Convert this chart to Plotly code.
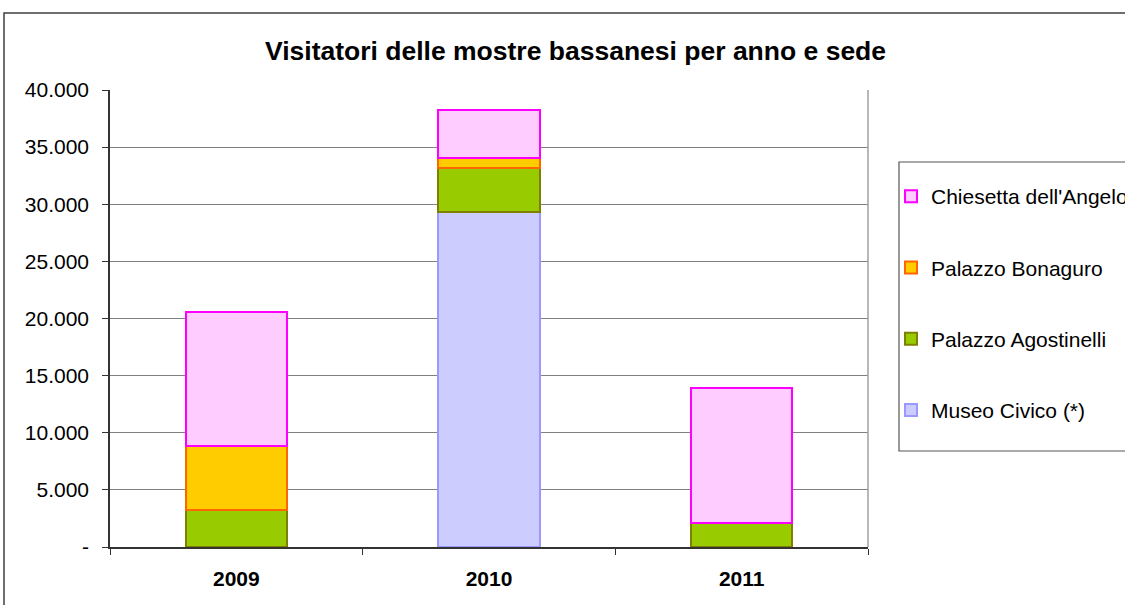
import plotly.graph_objects as go

years = ["2009", "2010", "2011"]
museo_civico = [0, 29350, 0]
palazzo_agostinelli = [3240, 3850, 2070]
palazzo_bonaguro = [5630, 820, 0]
chiesetta_angelo = [11700, 4230, 11870]

tick_values = [0, 5000, 10000, 15000, 20000, 25000, 30000, 35000, 40000]
tick_labels = ["-", "5.000", "10.000", "15.000", "20.000", "25.000", "30.000", "35.000", "40.000"]

series = [
    ("Museo Civico (*)", museo_civico, "#CCCCFF", "#9999FF", 4),
    ("Palazzo Agostinelli", palazzo_agostinelli, "#99CC00", "#808000", 3),
    ("Palazzo Bonaguro", palazzo_bonaguro, "#FFCC00", "#FF6600", 2),
    ("Chiesetta dell'Angelo", chiesetta_angelo, "#FFCCFF", "#FF00FF", 1),
]

FONT = "Arial, Liberation Sans, sans-serif"

fig = go.Figure()
for name, vals, fill, line, rank in series:
    fig.add_trace(go.Bar(
        x=years,
        y=[v if v else None for v in vals],
        name=name,
        legendgroup=name,
        legendrank=rank,
        marker=dict(color=fill, line=dict(color=line, width=2)),
        width=0.4,
        hoverinfo="x+y+name",
    ))

W, H = 1125, 605
L, R, T, B = 110, 1125 - 868, 90, 605 - 547
pw, ph = W - L - R, H - T - B

def px(x):
    return (x - L) / pw

def py(y):
    return (H - B - y) / ph

fig.update_layout(
    width=W, height=H,
    barmode="stack",
    margin=dict(l=L, r=R, t=T, b=B, autoexpand=False),
    paper_bgcolor="white",
    plot_bgcolor="white",
    font=dict(family=FONT, size=21, color="black"),
    showlegend=True,
    legend=dict(
        x=px(891), y=py(176), xanchor="left", yanchor="top",
        traceorder="grouped",
        tracegroupgap=41,
        bgcolor="rgba(0,0,0,0)",
        borderwidth=0,
        font=dict(family=FONT, size=21, color="black"),
    ),
    xaxis=dict(
        type="category",
        showline=True, linecolor="#333333", linewidth=1.5,
        ticks="outside", ticklen=6, tickcolor="#333333",
        tickson="boundaries",
        ticklabelstandoff=12,
        tickfont=dict(family=FONT, size=21, color="black", weight="bold"),
        showgrid=False,
    ),
    yaxis=dict(
        range=[0, 40000],
        tickvals=tick_values, ticktext=tick_labels,
        showline=True, linecolor="#333333", linewidth=1.5,
        ticks="outside", ticklen=6, tickcolor="#333333",
        ticklabelstandoff=9,
        showgrid=True, gridcolor="#808080", gridwidth=1,
        zeroline=False,
        tickfont=dict(family=FONT, size=21, color="black"),
    ),
    annotations=[dict(
        text="<b>Visitatori delle mostre bassanesi per anno e sede</b>",
        xref="paper", yref="paper",
        x=px(575), y=py(51), xanchor="center", yanchor="middle",
        showarrow=False,
        font=dict(family=FONT, size=26.5, color="black"),
    )],
    shapes=[
        # outer chart border
        dict(type="rect", xref="paper", yref="paper",
             x0=px(4), x1=px(1160), y0=py(640), y1=py(13),
             line=dict(color="#404040", width=1.5), layer="below"),
        # right edge of plot area
        dict(type="line", xref="paper", yref="paper",
             x0=1, x1=1, y0=0, y1=1,
             line=dict(color="#A0A0A0", width=1.5)),
        # legend box
        dict(type="rect", xref="paper", yref="paper",
             x0=px(899), x1=px(1160), y0=py(451), y1=py(162),
             line=dict(color="#555555", width=1.2), layer="below"),
    ],
)

fig.write_html(
    "out.html",
    config={"displayModeBar": False},
    post_script="document.body.style.margin='0';document.body.style.overflow='hidden';",
)
